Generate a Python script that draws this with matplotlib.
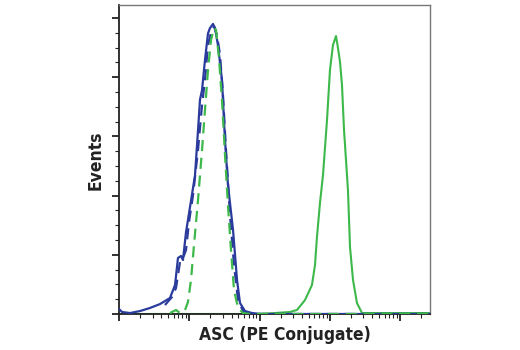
import numpy as np
import matplotlib
matplotlib.use("Agg")
import matplotlib.pyplot as plt
from matplotlib.ticker import LogLocator, MultipleLocator, NullFormatter
from matplotlib import font_manager

# Data: x as log10 decades of fluorescence intensity, y as event counts
blue_solid_dec = [0.0, 0.043, 0.156, 0.299, 0.441, 0.583, 0.725, 0.797, 0.839, 0.882, 0.910,
                  0.953, 0.996, 1.081, 1.124, 1.152, 1.181, 1.223, 1.266, 1.294, 1.337, 1.366,
                  1.408, 1.465, 1.508, 1.550, 1.622, 1.679, 1.721, 1.792, 1.892, 2.006, 4.424]
blue_solid_y = [4.2, 1.7, 0.8, 2.5, 5.1, 8.4, 13.5, 24.5, 47.3, 49.0, 45.6,
                69.0, 85.0, 117.0, 155.0, 181.0, 189.0, 214.5, 237.0, 241.5, 245.0, 241.5,
                227.0, 197.6, 147.0, 109.0, 71.0, 28.7, 9.3, 2.5, 0.8, 0.0, 0.0]

blue_dash_dec = [0.654, 0.754, 0.811, 0.868, 0.910, 0.953, 0.996, 1.053, 1.124, 1.181, 1.223,
                 1.266, 1.309, 1.351, 1.394, 1.437, 1.479, 1.522, 1.579, 1.636, 1.693, 1.764,
                 1.863, 4.424]
blue_dash_y = [7.6, 14.4, 22.0, 44.0, 47.3, 54.0, 77.7, 100.5, 138.5, 176.5, 197.6,
               227.0, 238.0, 243.0, 235.6, 218.8, 185.0, 138.5, 83.6, 41.4, 11.8, 2.5,
               0.0, 0.0]

green_dash_dec = [0.725, 0.811, 0.868, 0.939, 0.981, 1.024, 1.067, 1.124, 1.181, 1.223, 1.266,
                  1.309, 1.351, 1.380, 1.422, 1.465, 1.508, 1.550, 1.593, 1.636, 1.693, 1.764,
                  1.863, 4.424]
green_dash_y = [0.8, 3.4, 0.8, 3.4, 10.1, 28.7, 58.3, 96.3, 138.5, 172.3, 206.0,
                231.4, 241.5, 239.9, 216.2, 180.7, 134.3, 92.0, 54.0, 20.3, 5.1, 0.8,
                0.0, 0.0]

green_solid_dec = [0.0, 1.935, 2.219, 2.432, 2.532, 2.646, 2.745, 2.788, 2.816, 2.859, 2.902,
                   2.959, 3.001, 3.044, 3.087, 3.115, 3.144, 3.172, 3.201, 3.243, 3.257, 3.286,
                   3.329, 3.385, 3.457, 4.424]
green_solid_y = [0.0, 0.0, 0.8, 1.7, 3.4, 11.8, 24.5, 41.4, 65.0, 93.8, 117.4,
                 163.9, 206.0, 227.2, 234.8, 224.7, 212.8, 193.4, 155.4, 117.4, 104.7, 56.6,
                 28.7, 9.3, 0.8, 0.8]

x_label = "ASC (PE Conjugate)"
y_label = "Events"

BLUE = "#2a3b9c"
GREEN = "#3db84a"

names = {f.name for f in font_manager.fontManager.ttflist}
if "Liberation Sans Narrow" in names:
    fam, stretch = ["Liberation Sans Narrow", "DejaVu Sans"], "normal"
else:
    fam, stretch = ["DejaVu Sans"], "condensed"

fig = plt.figure(figsize=(5.2, 3.5), dpi=100)
ax = fig.add_axes([119/520, 36/350, 311/520, 309/350])

def tx(d):
    return 10 ** np.asarray(d)

ax.plot(tx(green_solid_dec), green_solid_y, color=GREEN, lw=1.5, zorder=2)
ax.plot(tx(blue_solid_dec), blue_solid_y, color=BLUE, lw=1.6, zorder=3)
ax.plot(tx(blue_dash_dec), blue_dash_y, color=BLUE, lw=1.6, ls=(0, (5, 3)), zorder=4)
ax.plot(tx(green_dash_dec), green_dash_y, color=GREEN, lw=1.6, ls=(0, (5, 3)), zorder=5)

ax.set_xscale("log")
ax.set_xlim(1, 10 ** 4.424)
ax.set_ylim(0, 261)
ax.xaxis.set_major_locator(LogLocator(base=10, numticks=10))
ax.xaxis.set_minor_locator(LogLocator(base=10, subs=np.arange(2, 10), numticks=20))
ax.xaxis.set_major_formatter(NullFormatter())
ax.xaxis.set_minor_formatter(NullFormatter())
ax.yaxis.set_major_locator(MultipleLocator(50))
ax.yaxis.set_minor_locator(MultipleLocator(12.5))
ax.yaxis.set_major_formatter(NullFormatter())

ax.tick_params(which="major", length=5, width=1.3, color="#222222", direction="out")
ax.tick_params(which="minor", length=3, width=0.8, color="#222222", direction="out")
ax.tick_params(top=False, right=False)

for s in ["left", "bottom"]:
    ax.spines[s].set_color("#222222")
    ax.spines[s].set_linewidth(1.3)
for s in ["top", "right"]:
    ax.spines[s].set_color("#777777")
    ax.spines[s].set_linewidth(1.0)

fig.text(285/520, 1 - 335/350, x_label, family=fam, fontstretch=stretch, fontweight="bold",
         fontsize=12.5, ha="center", va="center", color="#222222")
fig.text(96/520, 1 - 160/350, y_label, family=fam, fontstretch=stretch, fontweight="bold",
         fontsize=12.5, ha="center", va="center", rotation=90, color="#222222")

fig.savefig("out.png", dpi=100)
